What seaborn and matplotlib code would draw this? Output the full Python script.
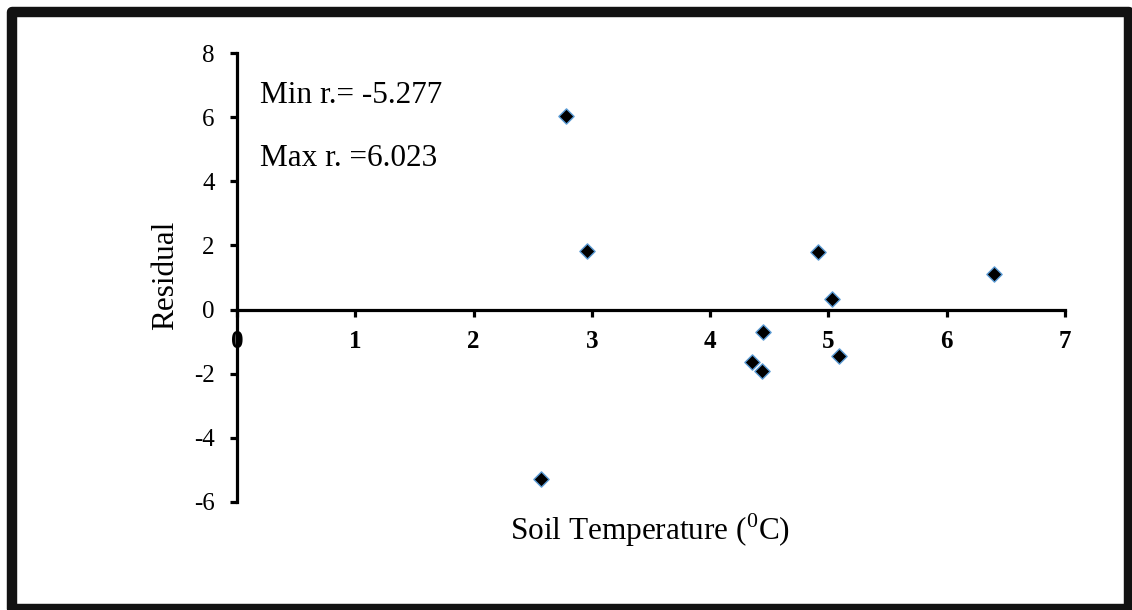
"""Residual plot vs soil temperature."""
import matplotlib
matplotlib.use("Agg")
import matplotlib.pyplot as plt
import pandas as pd
import seaborn as sns
from matplotlib.patches import Rectangle

# data
soil_temp = [2.57, 2.78, 2.96, 4.91, 6.40, 5.03, 4.45, 4.35, 4.44, 5.09]
residual = [-5.277, 6.023, 1.84, 1.78, 1.12, 0.34, -0.69, -1.62, -1.93, -1.46]
x_ticks = [0, 1, 2, 3, 4, 5, 6, 7]
y_ticks = [-6, -4, -2, 0, 2, 4, 6, 8]
notes = ["Min r.= -5.277", "Max r. =6.023"]

df = pd.DataFrame({"Soil Temperature": soil_temp, "Residual": residual})

sns.set_style("white")
plt.rcParams["font.family"] = ["Liberation Serif", "DejaVu Serif"]
plt.rcParams["mathtext.fontset"] = "custom"
plt.rcParams["mathtext.rm"] = "Liberation Serif"
plt.rcParams["text.color"] = "black"
plt.rcParams["xtick.color"] = "black"
plt.rcParams["ytick.color"] = "black"

fig = plt.figure(figsize=(11.32, 6.10), dpi=100)
ax = fig.add_axes([237 / 1132, 1 - 502 / 610, (1065 - 237) / 1132, (502 - 53) / 610])

sns.scatterplot(data=df, x="Soil Temperature", y="Residual", ax=ax,
                marker="D", s=60, color="black", edgecolor="#5b9bd5", linewidth=1.0,
                zorder=5, clip_on=False)

for s in ["top", "right"]:
    ax.spines[s].set_visible(False)
ax.spines["bottom"].set_position(("data", 0))
ax.spines["left"].set_position(("data", 0))
for s in ["bottom", "left"]:
    ax.spines[s].set_linewidth(2.3)
    ax.spines[s].set_color("black")

ax.set_xlim(0, 7)
ax.set_ylim(-6, 8)
ax.set_xticks(x_ticks)
ax.set_yticks(y_ticks)
ax.set_xticklabels([str(t) for t in x_ticks], fontweight="bold", fontsize=18)
ax.set_yticklabels([str(t) for t in y_ticks], fontsize=18)
ax.tick_params(axis="both", direction="out", length=5, width=2.3, color="black",
               labelcolor="black", bottom=True, left=True)
ax.tick_params(axis="x", pad=10)
ax.tick_params(axis="y", pad=11)

ax.set_xlabel("")
ax.set_ylabel("")
fig.text(166 / 1132, 1 - 275 / 610, "Residual", rotation=90, fontsize=22.5,
         ha="center", va="center")
fig.text(650 / 1132, 1 - 530 / 610, r"Soil Temperature ($^{\mathrm{0}}$C)", fontsize=22.5,
         ha="center", va="center")

ax.text(0.028, 0.905, notes[0], transform=ax.transAxes, fontsize=22.5, va="center")
ax.text(0.028, 0.765, notes[1], transform=ax.transAxes, fontsize=22.5, va="center")

# thick frame around the chart area
fig.patches.append(Rectangle((12 / 1132, 1 / 610), 1117 / 1132, 597 / 610,
                             transform=fig.transFigure, fill=False,
                             edgecolor="#121212", linewidth=7.5, joinstyle="round"))

fig.savefig("out.png", dpi=100)
